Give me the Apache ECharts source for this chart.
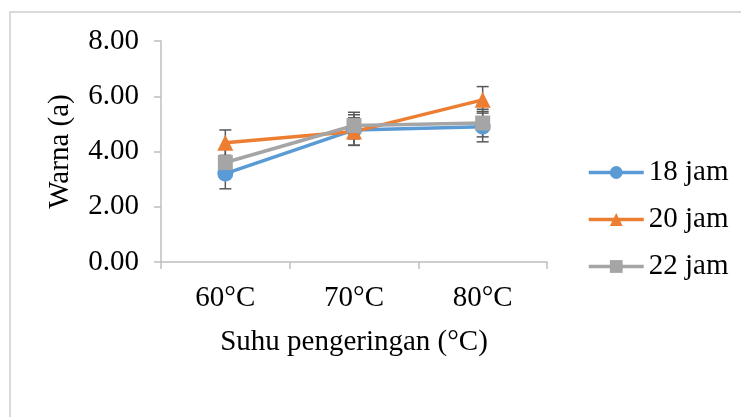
<!DOCTYPE html>
<html>
<head>
<meta charset="utf-8">
<script src="https://cdn.jsdelivr.net/npm/echarts@6/dist/echarts.min.js"></script>
<style>
html,body{margin:0;padding:0;background:#fff;}
#c{width:741px;height:417px;}
</style>
</head>
<body>
<div id="c"></div>
<script>
const categories = ['60°C', '70°C', '80°C'];
const seriesNames = ['18 jam', '20 jam', '22 jam'];
const values18 = [3.20, 4.78, 4.90];
const values20 = [4.32, 4.72, 5.87];
const values22 = [3.60, 4.94, 5.03];
const err18 = [0.55, 0.55, 0.55];
const err20 = [0.46, 0.50, 0.48];
const err22 = [0.50, 0.48, 0.50];
const yTicks = [0, 2, 4, 6, 8];

const FONT = "'Liberation Serif', 'Times New Roman', serif";
const FS = 29;
const colors = ['#5B9BD5', '#ED7D31', '#A5A5A5'];
const symbols = ['circle', 'triangle', 'rect'];
const allValues = [values18, values20, values22];
const allErr = [err18, err20, err22];

const chart = echarts.init(document.getElementById('c'));

const lineSeries = allValues.map((vals, i) => ({
  name: seriesNames[i],
  type: 'line',
  data: vals,
  symbol: symbols[i],
  symbolSize: i === 2 ? 15 : 16,
  showSymbol: true,
  lineStyle: { color: colors[i], width: 3.5 },
  itemStyle: { color: colors[i] },
  z: 3,
  animation: false
}));

const errSeries = allValues.map((vals, i) => ({
  type: 'custom',
  name: seriesNames[i] + ' err',
  data: vals.map((v, j) => [j, v - allErr[i][j], v + allErr[i][j]]),
  renderItem: function (params, api) {
    const x = api.value(0);
    const lo = api.coord([x, api.value(1)]);
    const hi = api.coord([x, api.value(2)]);
    const hw = 6;
    const st = { stroke: '#595959', lineWidth: 1.5 };
    return {
      type: 'group',
      children: [
        { type: 'line', shape: { x1: lo[0], y1: lo[1], x2: hi[0], y2: hi[1] }, style: st },
        { type: 'line', shape: { x1: lo[0] - hw, y1: lo[1], x2: lo[0] + hw, y2: lo[1] }, style: st },
        { type: 'line', shape: { x1: hi[0] - hw, y1: hi[1], x2: hi[0] + hw, y2: hi[1] }, style: st }
      ]
    };
  },
  z: 2,
  silent: true,
  animation: false
}));

chart.setOption({
  animation: false,
  backgroundColor: '#fff',
  color: colors,
  grid: { left: 161, top: 41, width: 386, height: 221, containLabel: false },
  graphic: [{
    type: 'polyline',
    shape: { points: [[10, 500], [10, 12], [745, 12]] },
    style: { stroke: '#d9d9d9', lineWidth: 2, fill: null }
  }],
  legend: {
    orient: 'vertical',
    left: 587,
    top: 158,
    padding: 0,
    itemWidth: 55,
    itemHeight: 16,
    itemGap: 18,
    data: seriesNames,
    lineStyle: { width: 3.5 },
    textStyle: { fontFamily: FONT, fontSize: FS, color: '#000' }
  },
  xAxis: {
    type: 'category',
    data: categories,
    boundaryGap: true,
    axisLine: { lineStyle: { color: '#bfbfbf', width: 1.5 } },
    axisTick: { show: true, length: 7, alignWithLabel: false, lineStyle: { color: '#bfbfbf', width: 1.5 } },
    axisLabel: { fontFamily: FONT, fontSize: FS, color: '#000', margin: 22 },
    name: 'Suhu pengeringan (°C)',
    nameLocation: 'middle',
    nameGap: 66,
    nameTextStyle: { fontFamily: FONT, fontSize: FS, color: '#000' }
  },
  yAxis: {
    type: 'value',
    min: yTicks[0],
    max: yTicks[yTicks.length - 1],
    interval: 2,
    splitLine: { show: false },
    axisLine: { show: true, lineStyle: { color: '#bfbfbf', width: 1.5 } },
    axisTick: { show: true, length: 7, lineStyle: { color: '#bfbfbf', width: 1.5 } },
    axisLabel: { fontFamily: FONT, fontSize: FS, color: '#000', margin: 22, formatter: v => v.toFixed(2) },
    name: 'Warna (a)',
    nameLocation: 'middle',
    nameGap: 86,
    nameTextStyle: { fontFamily: FONT, fontSize: FS, color: '#000' }
  },
  series: [...errSeries, ...lineSeries]
});
</script>
</body>
</html>
